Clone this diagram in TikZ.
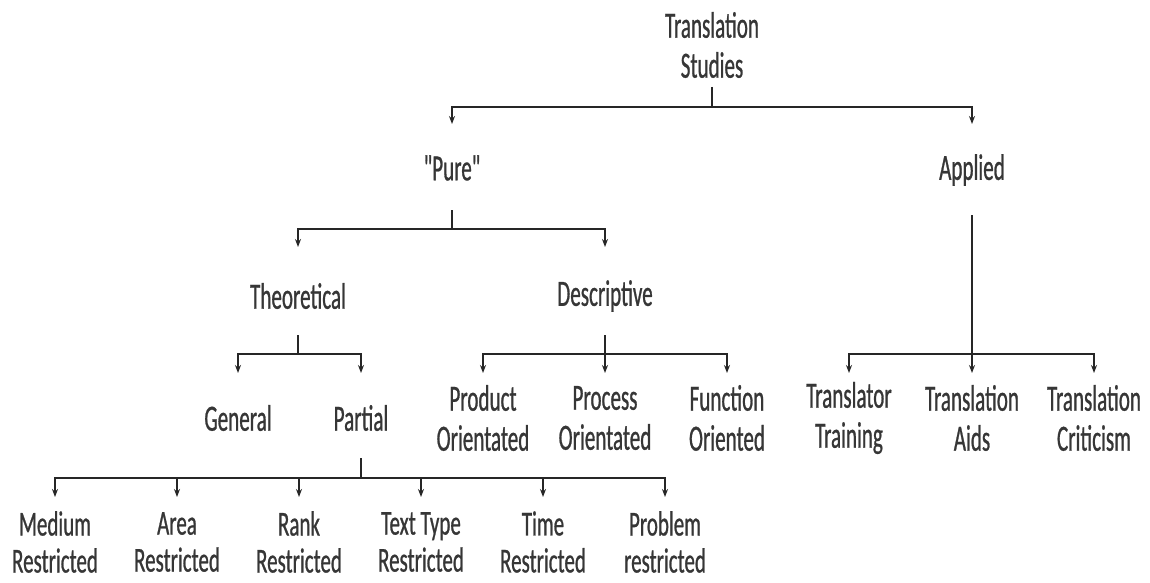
\documentclass[tikz,border=0pt]{standalone}
\usepackage{fontspec}
\usetikzlibrary{arrows.meta}
\newfontfamily\mainf{Carlito}[FakeStretch=0.57,FakeBold=0.7]
\newfontfamily\botf{Carlito}[FakeStretch=0.6,FakeBold=0.7]
\definecolor{ink}{HTML}{262626}
\definecolor{txt}{HTML}{363636}
\begin{document}
\begin{tikzpicture}[x=1pt,y=-1pt,
  lbl/.style={align=center,text=txt,inner sep=0pt,font=\mainf\fontsize{37}{40}\selectfont},
  blbl/.style={align=center,text=txt,inner sep=0pt,font=\botf\fontsize{35}{37}\selectfont},
  ln/.style={draw=ink,line width=2.5pt},
  arr/.style={ln,-{Stealth[length=8pt,width=6pt]}}]
\useasboundingbox[fill=white] (0,0) rectangle (1150,583);
% nodes
\node[lbl] (ts) at (712,45) {Translation\\Studies};
\node[lbl] (pure) at (452,168) {"Pure"};
\node[lbl] (app) at (972,170) {Applied};
\node[lbl] (theo) at (298,296) {Theoretical};
\node[lbl] (desc) at (605,296) {Descriptive};
\node[lbl] (gen) at (238,418) {General};
\node[lbl] (part) at (361,418) {Partial};
\node[lbl] (prod) at (483,418) {Product\\Orientated};
\node[lbl] (proc) at (605,418) {Process\\Orientated};
\node[lbl] (func) at (727,418) {Function\\Oriented};
\node[lbl] (ttr) at (849,418) {Translator\\Training};
\node[lbl] (tai) at (972,418) {Translation\\Aids};
\node[lbl] (tcr) at (1094,418) {Translation\\Criticism};
\node[blbl] (med) at (55,542) {Medium\\Restricted};
\node[blbl] (area) at (177,542) {Area\\Restricted};
\node[blbl] (rank) at (299,542) {Rank\\Restricted};
\node[blbl] (tt) at (421,542) {Text Type\\Restricted};
\node[blbl] (time) at (543,542) {Time\\Restricted};
\node[blbl] (prob) at (665,542) {Problem\\restricted};
% connectors
\draw[ln] (ts |- 0,87) -- (ts |- 0,107);
\draw[arr] (ts |- 0,107) -| (pure |- 0,124);
\draw[arr] (ts |- 0,107) -| (app |- 0,124);
\draw[ln] (pure |- 0,210) -- (pure |- 0,229);
\draw[arr] (pure |- 0,229) -| (theo |- 0,247);
\draw[arr] (pure |- 0,229) -| (desc |- 0,247);
\draw[ln] (theo |- 0,335) -- (theo |- 0,354);
\draw[arr] (theo |- 0,354) -| (gen |- 0,373);
\draw[arr] (theo |- 0,354) -| (part |- 0,373);
\draw[arr] (desc |- 0,335) -- (desc |- 0,373);
\draw[arr] (desc |- 0,354) -| (prod |- 0,373);
\draw[arr] (desc |- 0,354) -| (func |- 0,373);
\draw[arr] (app |- 0,215) -- (tai |- 0,373);
\draw[arr] (app |- 0,354) -| (ttr |- 0,373);
\draw[arr] (app |- 0,354) -| (tcr |- 0,373);
\draw[ln] (part |- 0,458) -- (part |- 0,478);
\foreach \n in {med,area,rank,tt,time,prob}
  \draw[arr] (part |- 0,478) -| (\n |- 0,497);
\end{tikzpicture}
\end{document}
